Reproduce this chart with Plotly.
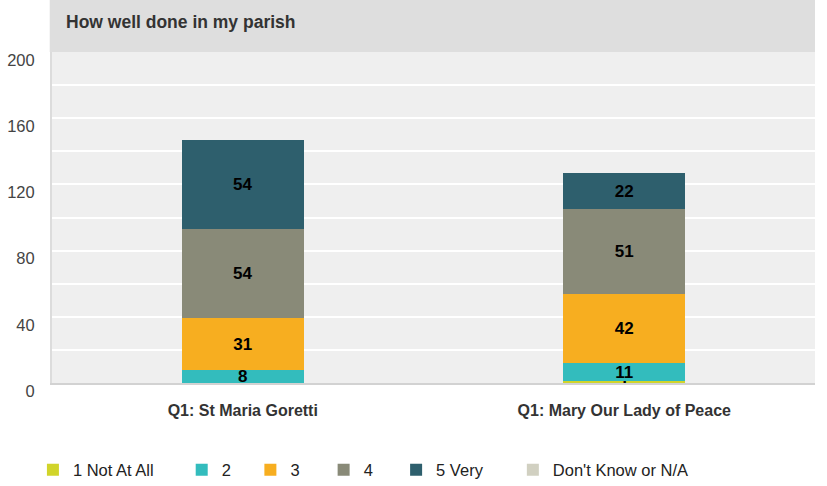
import plotly.graph_objects as go

categories = ["Q1: St Maria Goretti", "Q1: Mary Our Lady of Peace"]
series_names = ["1 Not At All", "2", "3", "4", "5 Very", "Don't Know or N/A"]
not_at_all = [0, 1]
two = [8, 11]
three = [31, 42]
four = [54, 51]
five_very = [54, 22]
dont_know = [0, 0]
y_ticks = [0, 40, 80, 120, 160, 200]

colors = ["#d1d42a", "#33bcbd", "#f7ae20", "#898a78", "#2e5f6d", "#d1d0c1"]
values = [not_at_all, two, three, four, five_very, dont_know]
# legend entry left positions (fraction of plot width), one legend box per series
legend_x = [-0.025, 0.170, 0.260, 0.356, 0.451, 0.604]

FONT = "Liberation Sans, Arial, sans-serif"
L, R, T, B = 52, 12, 52, 103
W, H = 827, 486
PH = H - T - B

fig = go.Figure()
legends = {}
for i, (name, vals, col, lx) in enumerate(zip(series_names, values, colors, legend_x)):
    key = "legend" if i == 0 else f"legend{i + 1}"
    fig.add_trace(go.Bar(
        name=name,
        x=categories,
        y=vals,
        legend=key,
        marker=dict(color=col, line=dict(width=0)),
        text=[str(v) if v else "" for v in vals],
        textposition="inside",
        insidetextanchor="middle",
        textangle=0,
        textfont=dict(family=FONT, size=17, color="#000000", weight="bold"),
        width=0.32,
        hoverinfo="name+y",
    ))
    legends[key] = dict(
        orientation="h",
        x=lx, xanchor="left",
        y=-(470 - (H - B)) / PH, yanchor="middle",
        font=dict(family=FONT, size=16.5, color="#222222"),
        itemsizing="constant",
        bgcolor="rgba(0,0,0,0)",
    )

fig.update_layout(
    barmode="stack",
    width=W, height=H,
    margin=dict(l=L, r=R, t=T, b=B, autoexpand=False),
    paper_bgcolor="#ffffff",
    plot_bgcolor="#efefef",
    font=dict(family=FONT, size=16, color="#333333"),
    uniformtext=dict(minsize=17, mode="show"),
    showlegend=True,
    xaxis=dict(
        showgrid=False,
        showline=True, linecolor="#d2d2d2", linewidth=2,
        ticks="",
        tickfont=dict(family=FONT, size=16, color="#333333", weight="bold"),
        ticklabelstandoff=12,
        automargin=False,
    ),
    yaxis=dict(
        range=[0, 200],
        tickvals=y_ticks,
        showgrid=True, gridcolor="#ffffff", gridwidth=2,
        minor=dict(dtick=20, showgrid=True, gridcolor="#ffffff", gridwidth=2, tick0=0),
        showline=True, linecolor="#dcdcdc", linewidth=2,
        ticks="",
        zeroline=False,
        tickfont=dict(family=FONT, size=16.5, color="#444444"),
        ticklabelstandoff=12,
        ticklabelshift=8,
        automargin=False,
    ),
    shapes=[dict(
        type="rect", xref="paper", yref="paper",
        x0=-0.003, x1=1.0, y0=1.0, y1=1.0 + T / PH,
        fillcolor="#dedede", line=dict(width=0), layer="below",
    )],
    annotations=[dict(
        text="<b>How well done in my parish</b>",
        xref="paper", yref="paper", x=(64 - L) / (W - L - R), y=1.0 + 30 / PH,
        xanchor="left", yanchor="middle", showarrow=False,
        font=dict(family=FONT, size=17.5, color="#333333"),
    )],
    **legends,
)

fig.write_html(
    "out.html",
    config={"displayModeBar": False},
    post_script="document.body.style.margin='0';document.body.style.overflow='hidden';",
)
